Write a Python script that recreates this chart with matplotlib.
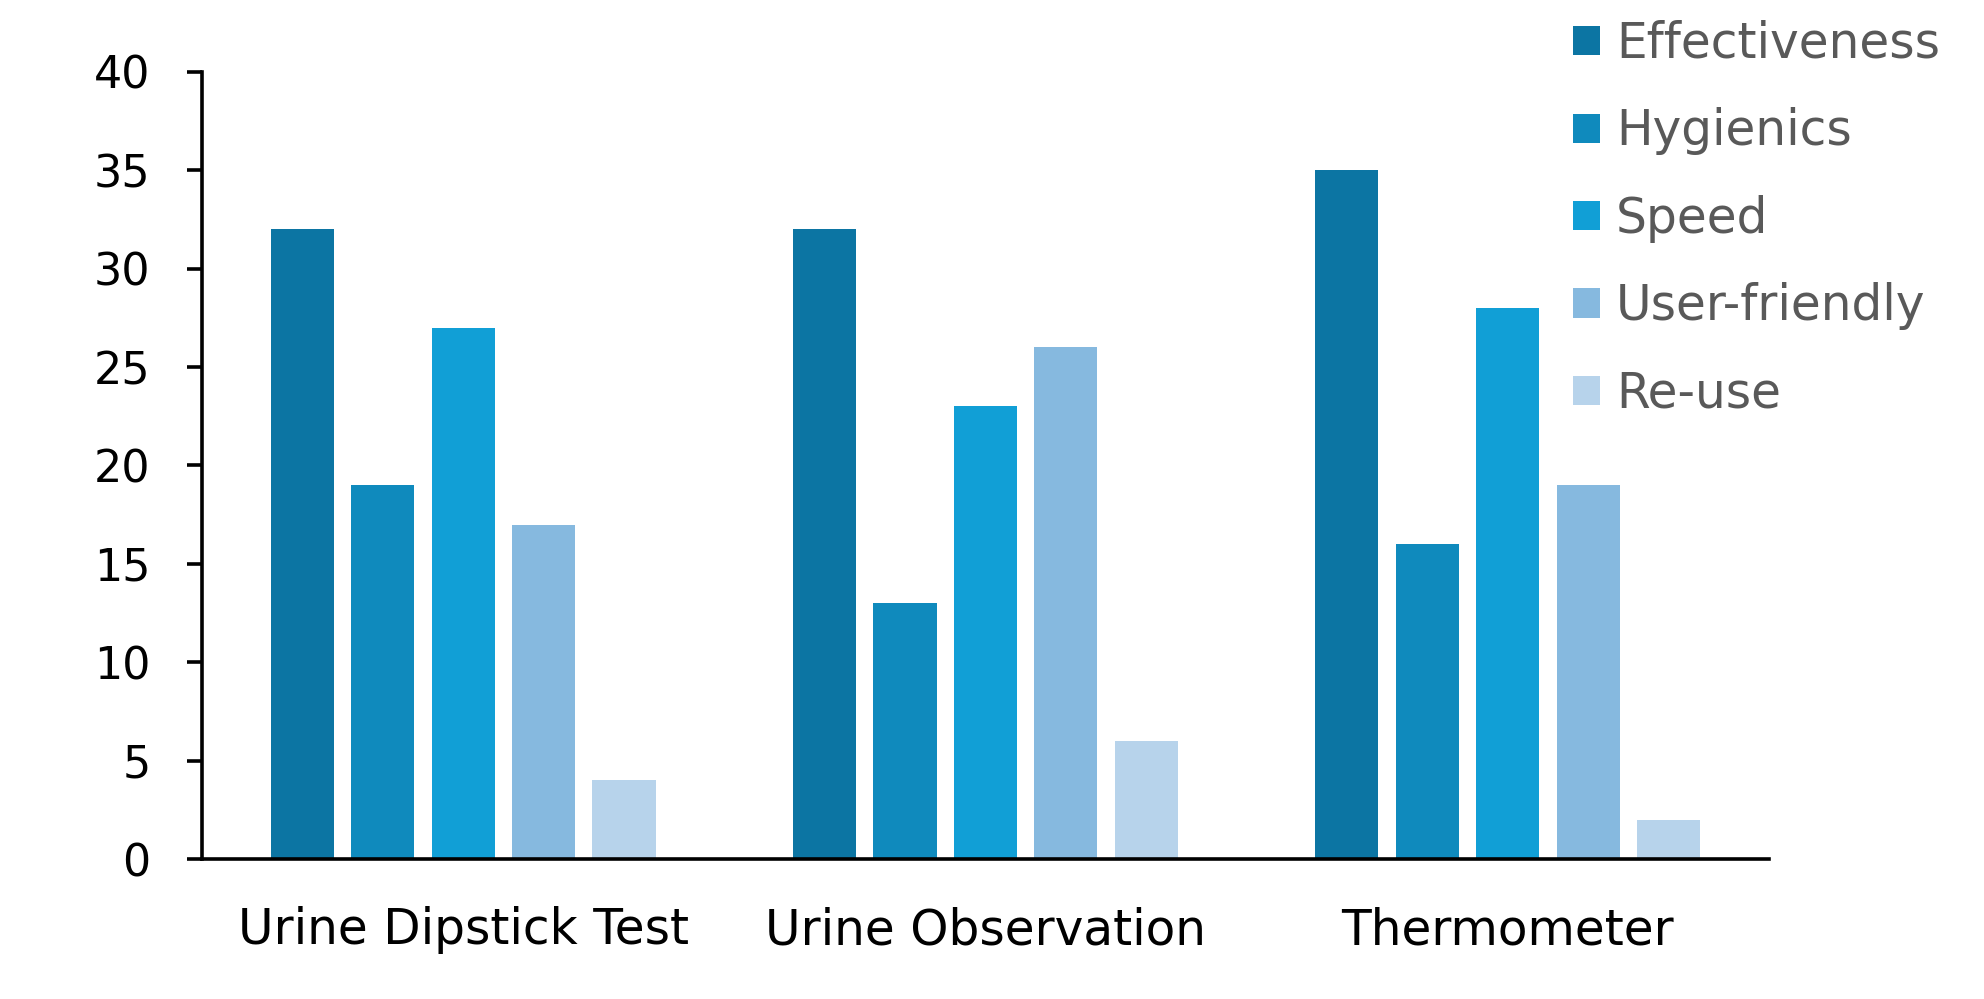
import numpy as np
import matplotlib
matplotlib.use("Agg")
import matplotlib.pyplot as plt

# Data
categories = ["Urine Dipstick Test", "Urine Observation", "Thermometer"]
series_names = ["Effectiveness", "Hygienics", "Speed", "User-friendly", "Re-use"]
effectiveness = [32, 32, 35]
hygienics = [19, 13, 16]
speed = [27, 23, 28]
user_friendly = [17, 26, 19]
re_use = [4, 6, 2]
y_ticks = [0, 5, 10, 15, 20, 25, 30, 35, 40]

series = [effectiveness, hygienics, speed, user_friendly, re_use]
colors = ["#0C75A3", "#0F8ABD", "#119FD6", "#86B9DF", "#B7D3EB"]

fig = plt.figure(figsize=(19.84, 9.99), dpi=100)
ax = fig.add_axes([0.1018, 0.1401, 0.8916 - 0.1018, 0.928 - 0.1401])

x = np.arange(len(categories))
width = 0.121
step = 0.154
for i, (name, vals) in enumerate(zip(series_names, series)):
    offset = (i - 2) * step
    ax.bar(x + offset, vals, width=width, color=colors[i], label=name, zorder=2)

ax.set_xlim(-0.5, 2.5)
ax.set_ylim(0, 40)
ax.set_yticks(y_ticks)
ax.set_yticklabels([str(v) for v in y_ticks], fontsize=32, family="DejaVu Sans")
ax.set_xticks(x)
ax.set_xticklabels(categories, fontsize=35, family="DejaVu Sans")

ax.spines["top"].set_visible(False)
ax.spines["right"].set_visible(False)
ax.spines["left"].set_linewidth(2.6)
ax.spines["bottom"].set_linewidth(2.6)
ax.tick_params(axis="y", length=11, width=2.6, pad=26)
ax.tick_params(axis="x", length=0, pad=34)

leg = ax.legend(loc="upper left", bbox_to_anchor=(0.875, 1.066), frameon=False,
                prop={"family": "DejaVu Sans", "size": 35},
                handlelength=0.55, handleheight=0.55, handletextpad=0.33,
                labelspacing=0.81, borderaxespad=0, borderpad=0)
for t in leg.get_texts():
    t.set_color("#595959")

fig.savefig("out.png", dpi=100)
